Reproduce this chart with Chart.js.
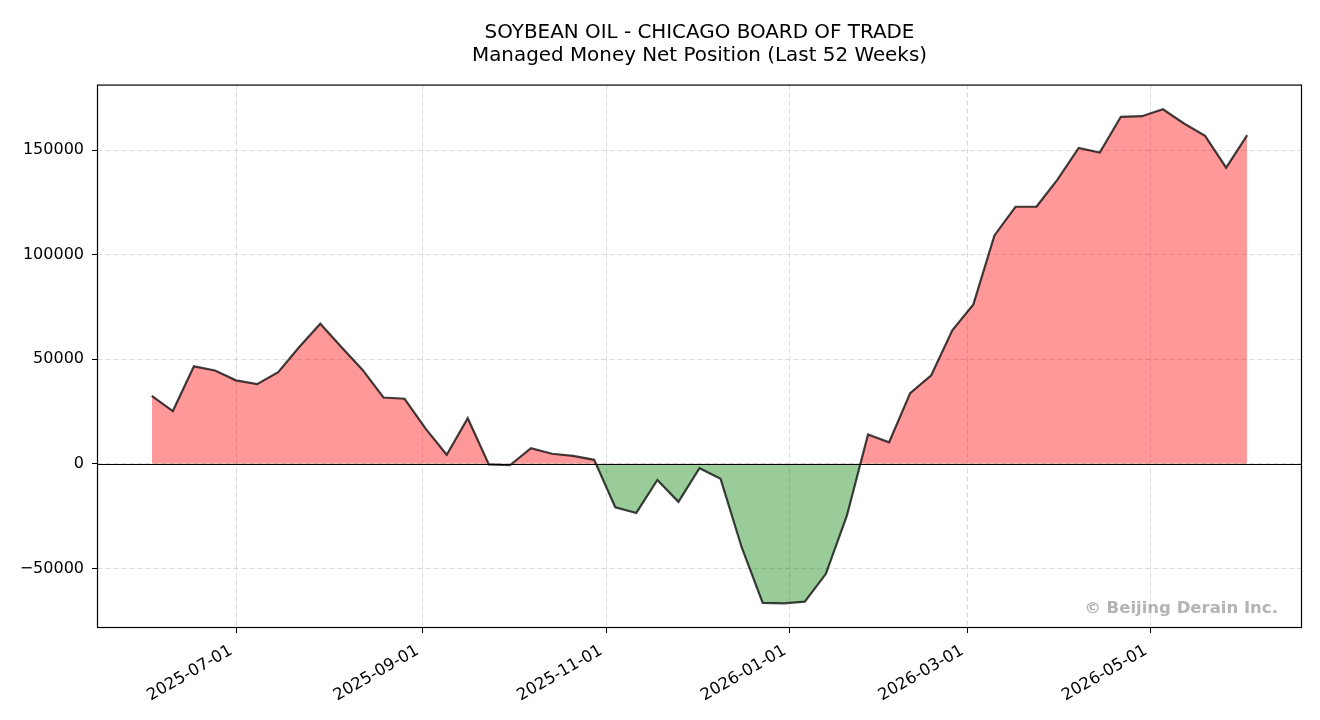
<!DOCTYPE html>
<html>
<head>
<meta charset="utf-8">
<script src="https://cdn.jsdelivr.net/npm/chart.js@4/dist/chart.umd.min.js"></script>
<style>
  html, body { margin: 0; padding: 0; background: #fff; }
  #wrap { width: 1320px; height: 720px; position: relative; }
</style>
</head>
<body>
<div id="wrap"><canvas id="cotChart"></canvas></div>
<script>
// Datos: fechas semanales (martes) del reporte COT
const fechas = [
  '2025-06-03', '2025-06-10', '2025-06-17', '2025-06-24', '2025-07-01', '2025-07-08',
  '2025-07-15', '2025-07-22', '2025-07-29', '2025-08-05', '2025-08-12', '2025-08-19',
  '2025-08-26', '2025-09-02', '2025-09-09', '2025-09-16', '2025-09-23', '2025-09-30',
  '2025-10-07', '2025-10-14', '2025-10-21', '2025-10-28', '2025-11-04', '2025-11-11',
  '2025-11-18', '2025-11-25', '2025-12-02', '2025-12-09', '2025-12-16', '2025-12-23',
  '2025-12-30', '2026-01-06', '2026-01-13', '2026-01-20', '2026-01-27', '2026-02-03',
  '2026-02-10', '2026-02-17', '2026-02-24', '2026-03-03', '2026-03-10', '2026-03-17',
  '2026-03-24', '2026-03-31', '2026-04-07', '2026-04-14', '2026-04-21', '2026-04-28',
  '2026-05-05', '2026-05-12', '2026-05-19', '2026-05-26', '2026-06-02'
];

// Posicion neta de Managed Money
const posicionNeta = [
  32500, 25200, 46600, 44600, 39900, 38100, 43800, 55800, 67000, 55800,
  45000, 31700, 31100, 16800, 4300, 21800, -300, -700, 7500, 4800,
  3800, 1900, -20800, -23500, -7700, -18200, -2100, -7200, -39900, -66500,
  -66700, -65900, -52600, -24700, 14000, 10300, 33800, 42300, 63800, 76200,
  109200, 122900, 123000, 136000, 151000, 148800, 165900, 166200, 169500, 162700,
  156800, 141600, 157100
];

// Marcas de los ejes
const fechasEjeX = ['2025-07-01', '2025-09-01', '2025-11-01', '2026-01-01', '2026-03-01', '2026-05-01'];
const valoresEjeY = [-50000, 0, 50000, 100000, 150000];

const titulo = ['SOYBEAN OIL - CHICAGO BOARD OF TRADE', 'Managed Money Net Position (Last 52 Weeks)'];
const marcaAgua = '\u00A9 Beijing Derain Inc.';

// Pasar fechas a milisegundos
const aMs = s => Date.parse(s + 'T00:00:00Z');
const puntos = fechas.map((f, i) => ({ x: aMs(f), y: posicionNeta[i] }));

// Margenes del 5% como matplotlib
const xIni = aMs(fechas[0]);
const xFin = aMs(fechas[fechas.length - 1]);
const xMargen = (xFin - xIni) * 0.05;
const yMin = Math.min(...posicionNeta);
const yMax = Math.max(...posicionNeta);
const yMargen = (yMax - yMin) * 0.05;

function formatoFecha(ms) {
  const d = new Date(ms);
  const mm = String(d.getUTCMonth() + 1).padStart(2, '0');
  const dd = String(d.getUTCDate()).padStart(2, '0');
  return d.getUTCFullYear() + '-' + mm + '-' + dd;
}

// Marco, linea del cero y marca de agua
const extras = {
  id: 'extras',
  afterDatasetsDraw(chart) {
    const { ctx, chartArea, scales } = chart;
    const y0 = Math.round(scales.y.getPixelForValue(0)) + 0.5;
    ctx.save();
    ctx.strokeStyle = '#000';
    ctx.lineWidth = 1.2;
    ctx.beginPath();
    ctx.moveTo(chartArea.left, y0);
    ctx.lineTo(chartArea.right, y0);
    ctx.stroke();

    ctx.font = 'bold 16.5px "DejaVu Sans"';
    ctx.fillStyle = 'rgba(128,128,128,0.6)';
    ctx.textAlign = 'right';
    ctx.textBaseline = 'bottom';
    ctx.fillText(marcaAgua, chartArea.left + chartArea.width * 0.98, chartArea.bottom - chartArea.height * 0.02);
    ctx.restore();
  },
  afterDraw(chart) {
    const { ctx, chartArea } = chart;
    ctx.save();
    ctx.strokeStyle = '#000';
    ctx.lineWidth = 1.2;
    ctx.strokeRect(chartArea.left + 0.5, chartArea.top + 0.5, chartArea.width - 1, chartArea.height - 1);
    ctx.restore();
  }
};

Chart.defaults.font.family = '"DejaVu Sans", sans-serif';
Chart.defaults.color = '#000';

const ctx = document.getElementById('cotChart').getContext('2d');
const cotChart = new Chart(ctx, {
  type: 'line',
  data: {
    datasets: [
      {
        label: 'Net Position',
        data: puntos,
        borderColor: 'rgba(0,0,0,0.74)',
        borderWidth: 2.2,
        pointRadius: 0,
        tension: 0,
        fill: {
          target: { value: 0 },
          above: 'rgba(255,0,0,0.4)',
          below: 'rgba(0,128,0,0.4)',
        },
      },
    ],
  },
  options: {
    responsive: true,
    maintainAspectRatio: false,
    devicePixelRatio: 1,
    animation: false,
    layout: { padding: { left: 0, right: 18, top: 0, bottom: 0 } },
    plugins: {
      legend: { display: false },
      tooltip: { enabled: false },
      title: {
        display: true,
        fullSize: false,
        text: titulo,
        color: '#000',
        font: { size: 19.9, weight: 'normal', lineHeight: 1.12 },
        padding: { top: 22, bottom: 18 },
      },
    },
    scales: {
      x: {
        type: 'linear',
        min: xIni - xMargen,
        max: xFin + xMargen,
        afterBuildTicks(scale) {
          scale.ticks = fechasEjeX.map(f => ({ value: aMs(f) }));
        },
        afterFit(scale) {
          scale.height = 92;
        },
        ticks: {
          autoSkip: false,
          minRotation: 30,
          maxRotation: 30,
          padding: 8,
          labelOffset: -5,
          font: { size: 16.4 },
          callback: value => formatoFecha(value),
        },
        grid: {
          color: 'rgba(176,176,176,0.45)',
          lineWidth: 1,
          tickColor: '#000',
          tickLength: 5,
          tickWidth: 1,
        },
        border: { display: false, dash: [5, 3] },
      },
      y: {
        type: 'linear',
        min: yMin - yMargen,
        max: yMax + yMargen,
        afterBuildTicks(scale) {
          scale.ticks = valoresEjeY.map(v => ({ value: v }));
        },
        afterFit(scale) {
          scale.width = 97;
        },
        ticks: {
          padding: 8,
          font: { size: 16 },
          callback: value => String(value).replace('-', '\u2212'),
        },
        grid: {
          color: 'rgba(176,176,176,0.45)',
          lineWidth: 1,
          tickColor: '#000',
          tickLength: 5,
          tickWidth: 1,
        },
        border: { display: false, dash: [5, 3] },
      },
    },
  },
  plugins: [extras],
});
</script>
</body>
</html>
